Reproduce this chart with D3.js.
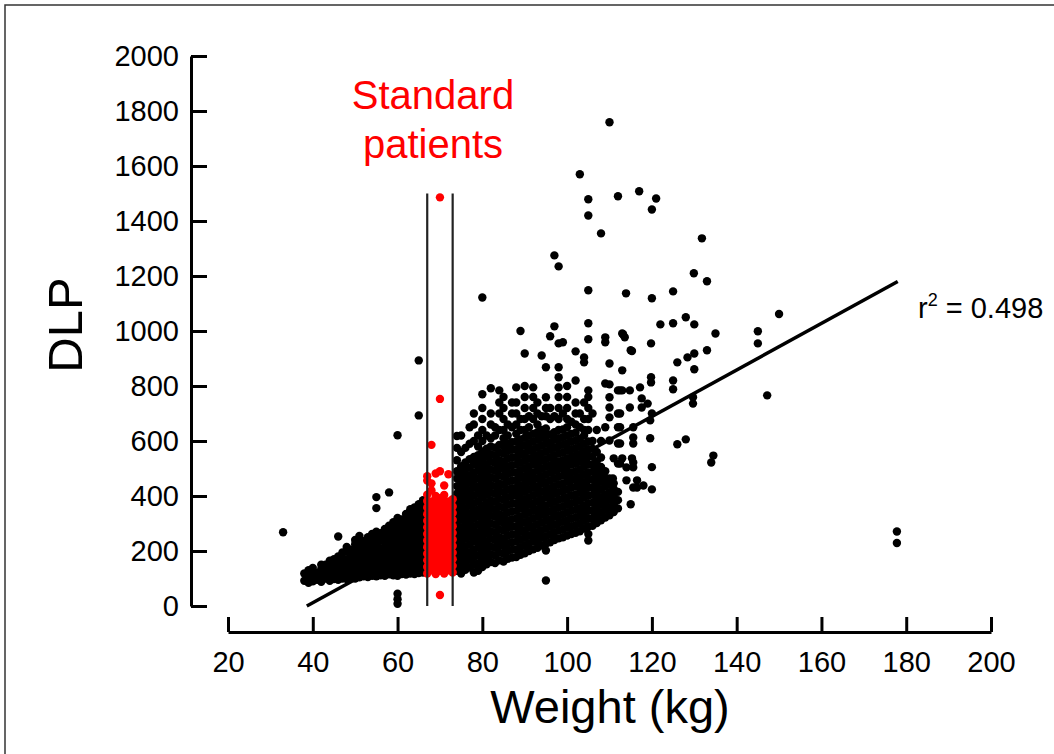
<!DOCTYPE html>
<html>
<head>
<meta charset="utf-8">
<script src="https://cdn.jsdelivr.net/npm/d3@7"></script>
<style>
    body { margin: 0; background: #fff; }
    svg { display: block; }
</style>
</head>
<body>
<svg id="chart" width="1054" height="754"></svg>
<script>
// tick values
const xTicks = [20, 40, 60, 80, 100, 120, 140, 160, 180, 200];
const yTicks = [0, 200, 400, 600, 800, 1000, 1200, 1400, 1600, 1800, 2000];

// weight (kg) -> DLP values, lighter patients
const lightCloud = [
    [38, [92, 118]],
    [39, [84, 105, 130]],
    [40, [90, 112, 138]],
    [41, [95, 120]],
    [42, [88, 110, 135, 150]],
    [43, [100, 125, 150]],
    [44, [92, 115, 140, 165]],
    [45, [98, 122, 148, 170]],
    [46, [95, 118, 140, 162, 180]],
    [47, [100, 125, 150, 175, 195]],
    [48, [98, 120, 145, 170, 200, 215]],
    [49, [105, 128, 152, 178, 205]],
    [50, [100, 122, 148, 172, 198, 225, 240]],
    [51, [104, 130, 155, 180, 205, 230, 255]],
    [52, [108, 132, 158, 182, 210, 236]],
    [53, [105, 128, 150, 175, 200, 225, 250]],
    [54, [110, 135, 160, 185, 210, 235, 262]],
    [55, [108, 130, 155, 180, 205, 230, 255, 270, 356, 396]],
    [56, [112, 136, 160, 185, 210, 238, 265]],
    [57, [110, 132, 158, 182, 208, 232, 258, 280]],
    [58, [115, 140, 165, 190, 215, 240, 265, 292, 413]],
    [59, [112, 135, 160, 185, 210, 235, 260, 285, 305]],
    [60, [8, 25, 45, 110, 134, 158, 182, 206, 230, 255, 280, 300, 320, 621]],
    [61, [116, 140, 165, 190, 215, 240, 265, 290, 315]],
    [62, [114, 138, 162, 186, 210, 235, 260, 285, 310, 335]],
    [63, [118, 142, 166, 190, 214, 238, 262, 286, 310, 335, 352]],
    [64, [116, 140, 164, 188, 212, 236, 260, 284, 308, 332, 358]],
    [65, [120, 145, 170, 195, 220, 245, 270, 295, 320, 345, 370, 693, 893]],
    [66, [122, 146, 170, 194, 218, 242, 266, 290, 314, 338, 362, 385]]
];

// standard patients (red)
const standardCloud = [
    [67, [118, 142, 166, 190, 214, 238, 262, 286, 310, 334, 358, 382, 405, 456, 472]],
    [68, [130, 155, 180, 205, 230, 255, 280, 305, 330, 355, 380, 420, 446, 586]],
    [69, [116, 140, 164, 188, 212, 236, 260, 284, 308, 332, 356, 380, 400, 482]],
    [70, [40, 128, 152, 176, 200, 224, 248, 272, 296, 320, 344, 368, 392, 490, 753, 1486]],
    [71, [118, 142, 166, 190, 214, 238, 262, 286, 310, 334, 358, 382, 404, 438]],
    [72, [130, 155, 180, 205, 230, 255, 280, 305, 330, 355, 380, 479]],
    [73, [122, 146, 170, 194, 218, 242, 266, 290, 314, 338, 362, 388]]
];

// heavier patients
const heavyCloud = [
    [74, [128, 156, 184, 212, 240, 268, 296, 324, 352, 380, 408, 436, 464, 490, 530, 575, 618]],
    [75, [118, 146, 174, 202, 230, 258, 286, 314, 342, 370, 398, 426, 454, 482, 508, 560, 620]],
    [76, [132, 160, 188, 216, 244, 272, 300, 328, 356, 384, 412, 440, 468, 496, 522, 575]],
    [77, [140, 168, 196, 224, 252, 280, 308, 336, 364, 392, 420, 448, 476, 504, 534, 590, 650]],
    [78, [122, 150, 178, 206, 234, 262, 290, 318, 346, 374, 402, 430, 458, 486, 514, 542, 600, 660, 700]],
    [79, [128, 156, 184, 212, 240, 268, 296, 324, 352, 380, 408, 436, 464, 492, 520, 548, 580, 620]],
    [80, [142, 170, 198, 226, 254, 282, 310, 338, 366, 394, 422, 450, 478, 506, 534, 562, 600, 640, 680, 720, 770, 1122]],
    [81, [152, 180, 208, 236, 264, 292, 320, 348, 376, 404, 432, 460, 488, 516, 544, 572, 620]],
    [82, [160, 188, 216, 244, 272, 300, 328, 356, 384, 412, 440, 468, 496, 524, 552, 580, 610, 660, 700, 792]],
    [83, [156, 184, 212, 240, 268, 296, 324, 352, 380, 408, 436, 464, 492, 520, 548, 576, 620, 650]],
    [84, [166, 194, 222, 250, 278, 306, 334, 362, 390, 418, 446, 474, 502, 530, 558, 586, 640, 700, 740, 784]],
    [85, [162, 190, 218, 246, 274, 302, 330, 358, 386, 414, 442, 470, 498, 526, 554, 582, 610, 640, 680, 720, 760]],
    [86, [172, 200, 228, 256, 284, 312, 340, 368, 396, 424, 452, 480, 508, 536, 564, 592, 620, 660]],
    [87, [176, 204, 232, 260, 288, 316, 344, 372, 400, 428, 456, 484, 512, 540, 568, 596, 650, 700, 740]],
    [88, [178, 206, 234, 262, 290, 318, 346, 374, 402, 430, 458, 486, 514, 542, 570, 598, 626, 660, 700, 740, 795]],
    [89, [186, 214, 242, 270, 298, 326, 354, 382, 410, 438, 466, 494, 522, 550, 578, 606, 640, 680, 1000]],
    [90, [192, 220, 248, 276, 304, 332, 360, 388, 416, 444, 472, 500, 528, 556, 584, 612, 640, 680, 720, 760, 800, 918]],
    [91, [200, 228, 256, 284, 312, 340, 368, 396, 424, 452, 480, 508, 536, 564, 592, 620, 650, 690]],
    [92, [206, 234, 262, 290, 318, 346, 374, 402, 430, 458, 486, 514, 542, 570, 598, 626, 680, 720, 760, 795]],
    [93, [212, 240, 268, 296, 324, 352, 380, 408, 436, 464, 492, 520, 548, 576, 604, 632, 660, 700, 740]],
    [94, [220, 248, 276, 304, 332, 360, 388, 416, 444, 472, 500, 528, 556, 584, 612, 640, 690, 911]],
    [95, [93, 202, 226, 254, 282, 310, 338, 366, 394, 422, 450, 478, 506, 534, 562, 590, 618, 646, 690, 720, 759, 868]],
    [96, [232, 260, 288, 316, 344, 372, 400, 428, 456, 484, 512, 540, 568, 596, 624, 680, 720, 981]],
    [97, [240, 268, 296, 324, 352, 380, 408, 436, 464, 492, 520, 548, 576, 604, 632, 690, 1017, 1275]],
    [98, [246, 274, 302, 330, 358, 386, 414, 442, 470, 498, 526, 554, 582, 610, 640, 680, 720, 760, 795, 832, 868, 955, 1235]],
    [99, [250, 278, 306, 334, 362, 390, 418, 446, 474, 502, 530, 558, 586, 614, 642, 700, 959]],
    [100, [256, 284, 312, 340, 368, 396, 424, 452, 480, 508, 536, 564, 592, 620, 650, 680, 720, 760, 800]],
    [101, [262, 290, 318, 346, 374, 402, 430, 458, 486, 514, 542, 570, 598, 626, 670]],
    [102, [266, 294, 322, 350, 378, 406, 434, 462, 490, 518, 546, 574, 602, 630, 660, 700, 740, 820, 926]],
    [103, [272, 300, 328, 356, 384, 412, 440, 468, 496, 524, 552, 580, 608, 650, 700, 1570]],
    [104, [282, 310, 338, 366, 394, 422, 450, 478, 506, 534, 562, 590, 620, 640, 680, 740, 886, 904]],
    [105, [238, 262, 290, 318, 346, 374, 402, 430, 458, 486, 514, 542, 570, 598, 640, 680, 720, 760, 784, 970, 1028, 1148, 1420, 1479]],
    [106, [292, 320, 348, 376, 404, 432, 460, 488, 516, 544, 572, 600, 700]],
    [107, [302, 330, 358, 386, 414, 442, 470, 498, 526, 560, 640]],
    [108, [312, 340, 368, 396, 424, 452, 480, 506, 540, 600, 1355]],
    [109, [322, 350, 378, 406, 434, 462, 490, 650, 809, 959, 977]],
    [110, [330, 358, 386, 414, 442, 464, 602, 686, 722, 759, 806, 882, 1759]],
    [111, [342, 370, 398, 426, 446, 537]],
    [112, [355, 385, 415, 518, 591, 650, 700, 784, 1490]]
];

// scattered points that do not sit on whole kilograms
const looseDots = [
    [33, 268], [46, 253],
    [113, 991], [113.6, 977], [115, 930], [119.8, 955], [122, 1024], [125, 1028],
    [128, 1050], [130, 1024], [135, 991], [145, 999], [145, 955], [150, 1062],
    [113, 857], [113.2, 988], [115.3, 927], [119.8, 832], [119.8, 813], [125, 820],
    [125, 788], [126, 886], [128.4, 904], [130, 918], [130, 861], [133, 930],
    [113, 784], [117.2, 795], [129.7, 759], [129.7, 736], [147.2, 766], [119.6, 675],
    [120, 700], [119.6, 610], [126, 588], [128, 606], [134.5, 547], [134, 522],
    [120, 505], [115, 370], [120, 424], [118, 438], [115.6, 431], [110.8, 464],
    [112.5, 784], [114.8, 784], [114.8, 722], [117.6, 755], [117.6, 722], [119, 736],
    [112.5, 700], [112.5, 650], [115.6, 650], [115.6, 613], [112.5, 591], [115.6, 591],
    [113, 537], [115.3, 537], [112.5, 518], [115.6, 504], [114, 457], [116.5, 431],
    [115.6, 522], [114, 504], [116.5, 457],
    [117, 1508], [121, 1482], [120, 1442], [131.8, 1337], [129.9, 1210], [133, 1181],
    [113.9, 1137], [120, 1119], [125, 1144], [177.8, 271], [177.8, 229]
];

const fitLine = [[38.6, 0], [178, 1180]];
const rSquared = '0.498';
const standardRange = [67, 73];
const standardTop = 1500;

const svg = d3.select('#chart');

const x = d3.scaleLinear().domain([20, 200]).range([228, 991]);
const y = d3.scaleLinear().domain([0, 2000]).range([606, 56]);

// frame
svg.append('rect')
    .attr('x', 5).attr('y', 5)
    .attr('width', 1200).attr('height', 900)
    .attr('fill', 'none')
    .attr('stroke', '#333')
    .attr('stroke-width', 1.5);

const flatten = cols => cols.flatMap(([w, vals]) => vals.map(d => [w, d]));

const blackDots = flatten(lightCloud).concat(flatten(heavyCloud), looseDots);
const redDots = flatten(standardCloud);

// regression line sits under the dots
svg.append('line')
    .attr('x1', x(fitLine[0][0])).attr('y1', y(fitLine[0][1]))
    .attr('x2', x(fitLine[1][0])).attr('y2', y(fitLine[1][1]))
    .attr('stroke', '#000')
    .attr('stroke-width', 3.5);

svg.append('g')
    .selectAll('circle')
    .data(blackDots)
    .join('circle')
    .attr('cx', d => x(d[0]))
    .attr('cy', d => y(d[1]))
    .attr('r', 4.2)
    .attr('fill', '#000');

svg.append('g')
    .selectAll('circle')
    .data(redDots)
    .join('circle')
    .attr('cx', d => x(d[0]))
    .attr('cy', d => y(d[1]))
    .attr('r', 4.2)
    .attr('fill', '#ff0000');

// standard patient band
svg.append('g')
    .selectAll('line')
    .data(standardRange)
    .join('line')
    .attr('x1', d => x(d)).attr('x2', d => x(d))
    .attr('y1', y(0)).attr('y2', y(standardTop))
    .attr('stroke', '#222')
    .attr('stroke-width', 2.2);

// axes
const yAxis = svg.append('g')
    .attr('transform', 'translate(191,0)')
    .call(d3.axisLeft(y).tickValues(yTicks).tickFormat(d3.format('d'))
        .tickSizeInner(-16).tickSizeOuter(0).tickPadding(12));

const xAxis = svg.append('g')
    .attr('transform', 'translate(0,632)')
    .call(d3.axisBottom(x).tickValues(xTicks).tickFormat(d3.format('d'))
        .tickSizeInner(-15).tickSizeOuter(0).tickPadding(19));

[yAxis, xAxis].forEach(g => {
    g.selectAll('path, line').attr('stroke', '#000').attr('stroke-width', 3);
    g.selectAll('text')
        .attr('fill', '#000')
        .style('font-family', '"Liberation Sans", Arial, sans-serif')
        .style('font-size', '29px');
});

// labels
svg.append('text')
    .attr('transform', 'translate(82,325) rotate(-90)')
    .attr('text-anchor', 'middle')
    .style('font-family', '"Liberation Sans", Arial, sans-serif')
    .style('font-size', '49px')
    .text('DLP');

svg.append('text')
    .attr('x', 610).attr('y', 723)
    .attr('text-anchor', 'middle')
    .style('font-family', '"Liberation Sans", Arial, sans-serif')
    .style('font-size', '47px')
    .text('Weight (kg)');

const note = svg.append('g')
    .attr('fill', '#ff0000')
    .style('font-family', '"Liberation Sans", Arial, sans-serif')
    .style('font-size', '40px')
    .attr('text-anchor', 'middle');
note.append('text').attr('x', 433).attr('y', 109).text('Standard');
note.append('text').attr('x', 433).attr('y', 158).text('patients');

const r2 = svg.append('text')
    .attr('x', 918).attr('y', 318)
    .style('font-family', '"Liberation Sans", Arial, sans-serif')
    .style('font-size', '29px');
r2.append('tspan').text('r');
r2.append('tspan').attr('dy', -12).style('font-size', '18px').text('2');
r2.append('tspan').attr('dy', 12).text(' = ' + rSquared);
</script>
</body>
</html>
